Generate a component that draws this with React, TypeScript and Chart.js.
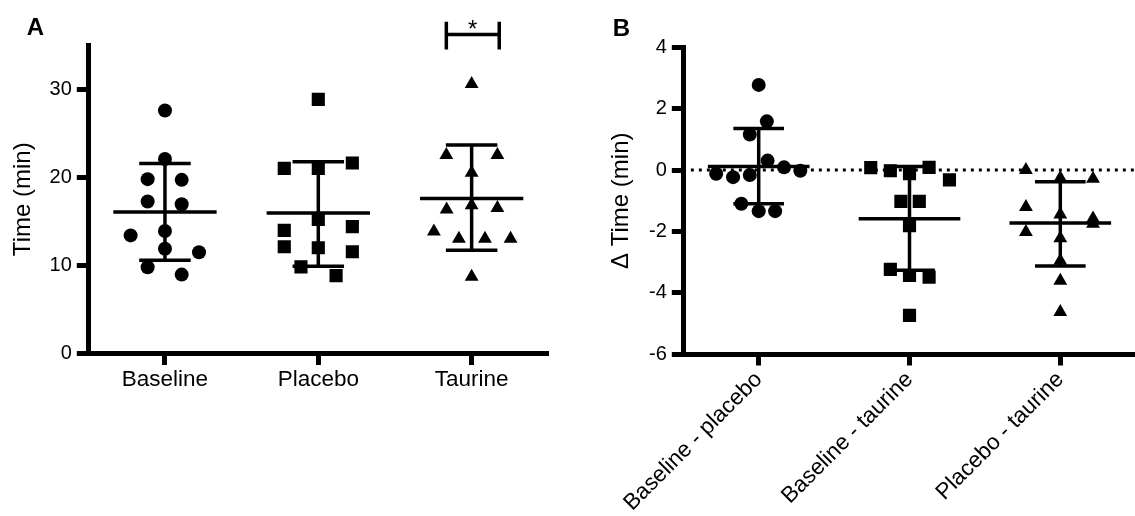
import React, { useEffect, useRef } from "react";
import { Chart, registerables } from "chart.js";

Chart.register(...registerables);

const FONT = "'Liberation Sans', Arial, Helvetica, sans-serif";

// ---------- Panel A: Time (min) ----------
const groupsA = ["Baseline", "Placebo", "Taurine"];
const baselineTime = [27.57, 22.06, 19.78, 19.7, 17.24, 16.93, 13.4, 13.89, 11.88, 11.49, 9.78, 8.95];
const baselineJitter = [0, 0, -0.113, 0.109, -0.113, 0.109, -0.224, 0, 0, 0.222, -0.113, 0.109];
const placeboTime = [28.83, 21.0, 21.61, 21.0, 15.22, 13.97, 14.39, 12.11, 12.0, 11.54, 9.83, 8.84];
const placeboJitter = [0, -0.222, 0.222, 0, 0, -0.222, 0.222, -0.222, 0, 0.222, -0.113, 0.116];
const taurineTime = [30.58, 22.52, 22.52, 20.5, 16.33, 16.82, 16.51, 13.85, 13.02, 13.02, 13.02, 8.72];
const taurineJitter = [0, -0.165, 0.168, 0, -0.163, 0, 0.168, -0.246, -0.083, 0.087, 0.254, 0];
const meanA = [16.05, 15.94, 17.58];
const sdHighA = [21.57, 21.76, 23.66];
const sdLowA = [10.58, 9.9, 11.72];
const yTicksA = [0, 10, 20, 30];
const sigGroupA = 2;
const sigValueA = 36.2;
const sigLabelA = "*";

// ---------- Panel B: Δ Time (min) ----------
const groupsB = ["Baseline - placebo", "Baseline - taurine", "Placebo - taurine"];
const blPlDelta = [2.78, 1.59, 1.16, 0.31, 0.09, -0.02, -0.12, -0.23, -0.16, -1.1, -1.34, -1.34];
const blPlJitter = [0, 0.054, -0.059, 0.059, 0.168, 0.276, -0.282, -0.17, -0.059, -0.115, 0, 0.109];
const blTaDelta = [0.08, -0.02, -0.12, 0.09, -0.32, -1.02, -1.02, -1.81, -3.24, -3.44, -3.49, -4.74];
const blTaJitter = [-0.257, -0.127, 0, 0.13, 0.265, -0.057, 0.065, 0, -0.127, 0, 0.13, 0];
const plTaDelta = [0.0, -0.26, -0.28, -1.2, -1.45, -1.58, -1.75, -2.02, -2.22, -2.96, -3.61, -4.63];
const plTaJitter = [-0.228, 0, 0.217, -0.228, 0, 0.217, 0.217, -0.228, 0, 0, 0, 0];
const meanB = [0.12, -1.59, -1.73];
const sdHighB = [1.36, 0.12, -0.38];
const sdLowB = [-1.1, -3.27, -3.13];
const yTicksB = [-6, -4, -2, 0, 2, 4];
const referenceB = 0;

const markerStyles = ["circle", "rect", "triangle"];
const markerRadii = [7, 9.3, 8];

function pointDatasets(values: number[][], jitters: number[][]) {
  return values.map((vals, i) => ({
    data: vals.map((v, k) => ({ x: i + jitters[i][k], y: v })),
    pointStyle: markerStyles[i],
    pointRadius: markerRadii[i],
    pointBackgroundColor: "#000",
    pointBorderWidth: 0,
    showLine: false,
  }));
}

function statDatasets(mean: number[], hi: number[], lo: number[]) {
  const MW = 0.337;
  const CW = 0.168;
  return mean.map((m, i) => ({
    data: [
      { x: i - MW, y: m }, { x: i + MW, y: m }, { x: i, y: null },
      { x: i - CW, y: hi[i] }, { x: i + CW, y: hi[i] }, { x: i, y: null },
      { x: i - CW, y: lo[i] }, { x: i + CW, y: lo[i] }, { x: i, y: null },
      { x: i, y: hi[i] }, { x: i, y: lo[i] },
    ],
    showLine: true,
    spanGaps: false,
    borderColor: "#000",
    borderWidth: 3.5,
    pointRadius: 0,
    borderCapStyle: "butt",
  }));
}

function xAxis(labels: string[], rotation: number, size: number, height: number) {
  return {
    type: "linear",
    min: -0.5,
    max: 2.5,
    afterBuildTicks: (s: any) => {
      s.ticks = labels.map((_, i) => ({ value: i }));
    },
    afterFit: (s: any) => {
      s.height = height;
    },
    ticks: {
      callback: (v: number) => labels[v] ?? "",
      autoSkip: false,
      minRotation: rotation,
      maxRotation: rotation,
      padding: 1,
      color: "#000",
      font: { family: FONT, size },
    },
    grid: {
      display: true,
      drawOnChartArea: false,
      drawTicks: true,
      tickLength: 11.5,
      tickWidth: 5,
      tickColor: "#000",
      color: "#000",
    },
    border: { display: true, color: "#000", width: 5 },
  };
}

function yAxis(ticks: number[], min: number, max: number, width: number, title: string, titlePad: number) {
  return {
    type: "linear",
    min,
    max,
    afterBuildTicks: (s: any) => {
      s.ticks = ticks.map((v) => ({ value: v }));
    },
    afterFit: (s: any) => {
      s.width = width;
    },
    ticks: {
      callback: (v: number) => String(v),
      padding: 5,
      color: "#000",
      font: { family: FONT, size: 20 },
    },
    grid: {
      display: true,
      drawOnChartArea: false,
      drawTicks: true,
      tickLength: 11.5,
      tickWidth: 5,
      tickColor: "#000",
      color: "#000",
    },
    border: { display: true, color: "#000", width: 5 },
    title: {
      display: true,
      text: title,
      color: "#000",
      font: { family: FONT, size: 24 },
      padding: { top: titlePad, bottom: 0 },
    },
  };
}

function letterPlugin(letter: string, x: number, y: number) {
  return {
    id: "letter" + letter,
    afterDraw(chart: any) {
      const ctx = chart.ctx;
      ctx.save();
      ctx.font = `bold 24px ${FONT}`;
      ctx.fillStyle = "#000";
      ctx.textBaseline = "alphabetic";
      ctx.textAlign = "left";
      ctx.fillText(letter, x, y);
      ctx.restore();
    },
  };
}

const sigPlugin = {
  id: "sigBracket",
  afterDatasetsDraw(chart: any) {
    const { ctx } = chart;
    const xs = chart.scales.x;
    const ys = chart.scales.y;
    const x1 = xs.getPixelForValue(sigGroupA - 0.165);
    const x2 = xs.getPixelForValue(sigGroupA + 0.18);
    const yb = ys.getPixelForValue(sigValueA);
    const yt = ys.getPixelForValue(sigValueA + 1.43);
    const yl = ys.getPixelForValue(sigValueA - 1.7);
    ctx.save();
    ctx.strokeStyle = "#000";
    ctx.lineWidth = 3.5;
    ctx.lineCap = "butt";
    ctx.beginPath();
    ctx.moveTo(x1, yb);
    ctx.lineTo(x2, yb);
    ctx.moveTo(x1, yt);
    ctx.lineTo(x1, yl);
    ctx.moveTo(x2, yt);
    ctx.lineTo(x2, yl);
    ctx.stroke();
    ctx.fillStyle = "#000";
    ctx.font = `24px ${FONT}`;
    ctx.textAlign = "center";
    ctx.textBaseline = "alphabetic";
    ctx.fillText(sigLabelA, (x1 + x2) / 2, yb + 2.5);
    ctx.restore();
  },
};

export default function App() {
  const refA = useRef<HTMLCanvasElement | null>(null);
  const refB = useRef<HTMLCanvasElement | null>(null);

  useEffect(() => {
    Chart.defaults.font.family = FONT;
    Chart.defaults.color = "#000";

    const chartA = new Chart(refA.current as HTMLCanvasElement, {
      type: "scatter",
      data: {
        datasets: [
          ...statDatasets(meanA, sdHighA, sdLowA),
          ...pointDatasets([baselineTime, placeboTime, taurineTime], [baselineJitter, placeboJitter, taurineJitter]),
        ] as any,
      },
      options: {
        responsive: false,
        animation: false,
        events: [],
        layout: { padding: { top: 45, left: 0, right: 21.7, bottom: 0 } },
        plugins: { legend: { display: false }, tooltip: { enabled: false } },
        scales: {
          x: xAxis(groupsA, 0, 22.5, 162.5),
          y: yAxis(yTicksA, 0, 35, 88.3, "Time (min)", 9),
        } as any,
      },
      plugins: [sigPlugin, letterPlugin("A", 26.7, 35)],
    });

    const chartB = new Chart(refB.current as HTMLCanvasElement, {
      type: "scatter",
      data: {
        datasets: [
          {
            data: [
              { x: -0.45, y: referenceB },
              { x: 2.6, y: referenceB },
            ],
            showLine: true,
            borderColor: "#000",
            borderWidth: 3,
            borderDash: [3, 5],
            pointRadius: 0,
          },
          ...statDatasets(meanB, sdHighB, sdLowB),
          ...pointDatasets([blPlDelta, blTaDelta, plTaDelta], [blPlJitter, blTaJitter, plTaJitter]),
        ] as any,
      },
      options: {
        responsive: false,
        animation: false,
        events: [],
        layout: { padding: { top: 47.5, left: 0, right: 1.7, bottom: 0 } },
        plugins: { legend: { display: false }, tooltip: { enabled: false } },
        scales: {
          x: xAxis(groupsB, 45, 22.5, 162),
          y: yAxis(yTicksB, -6, 4, 83.3, "\u0394 Time (min)", 6.6),
        } as any,
      },
      plugins: [letterPlugin("B", 12.7, 36)],
    });

    return () => {
      chartA.destroy();
      chartB.destroy();
    };
  }, []);

  return (
    <div
      style={{
        position: "fixed",
        left: 0,
        top: 0,
        width: 1135,
        height: 516,
        overflow: "hidden",
        background: "#fff",
      }}
    >
      <canvas
        ref={refA}
        width={570}
        height={516}
        style={{ position: "absolute", left: 0, top: 0, width: 570, height: 516, display: "block" }}
      />
      <canvas
        ref={refB}
        width={545}
        height={516}
        style={{ position: "absolute", left: 600, top: 0, width: 545, height: 516, display: "block" }}
      />
    </div>
  );
}
